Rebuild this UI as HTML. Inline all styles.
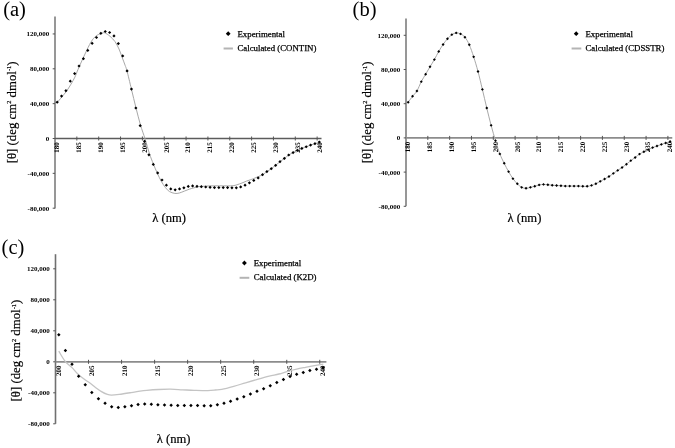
<!DOCTYPE html>
<html><head><meta charset="utf-8"><style>
html,body{margin:0;padding:0;background:#fff;}
body{width:675px;height:448px;overflow:hidden;}
svg{display:block;filter:grayscale(1);}
text{font-family:"Liberation Serif",serif;fill:#000;}
.yl{font-size:7px;font-weight:bold;}
.xl{font-size:7px;font-weight:bold;text-rendering:geometricPrecision;}
.lg{font-size:8.8px;stroke:#000;stroke-width:0.25px;}
.yt{font-size:12.8px;stroke:#000;stroke-width:0.2px;}
.sup{font-size:6.4px;}
.xt{font-size:12.6px;stroke:#000;stroke-width:0.2px;}
.pl{font-size:20.5px;}
</style></head><body>
<svg width="675" height="448" viewBox="0 0 675 448">
<rect width="675" height="448" fill="#fff"/>
<line x1="55" y1="16.4" x2="55" y2="208.4" stroke="#8c8c8c" stroke-width="1.8"/>
<line x1="52.7" y1="208.2" x2="55" y2="208.2" stroke="#555" stroke-width="1"/>
<text x="49.2" y="210.6" class="yl" text-anchor="end">-80,000</text>
<line x1="52.7" y1="173.35" x2="55" y2="173.35" stroke="#555" stroke-width="1"/>
<text x="49.2" y="175.75" class="yl" text-anchor="end">-40,000</text>
<line x1="52.7" y1="138.5" x2="55" y2="138.5" stroke="#555" stroke-width="1"/>
<text x="49.2" y="140.9" class="yl" text-anchor="end">0</text>
<line x1="52.7" y1="103.65" x2="55" y2="103.65" stroke="#555" stroke-width="1"/>
<text x="49.2" y="106.05" class="yl" text-anchor="end">40,000</text>
<line x1="52.7" y1="68.8" x2="55" y2="68.8" stroke="#555" stroke-width="1"/>
<text x="49.2" y="71.2" class="yl" text-anchor="end">80,000</text>
<line x1="52.7" y1="33.95" x2="55" y2="33.95" stroke="#555" stroke-width="1"/>
<text x="49.2" y="36.35" class="yl" text-anchor="end">120,000</text>
<line x1="55" y1="138.5" x2="321.51" y2="138.5" stroke="#5c5c5c" stroke-width="1.3"/>
<line x1="76.84" y1="136.5" x2="76.84" y2="140.5" stroke="#555" stroke-width="1"/>
<line x1="98.69" y1="136.5" x2="98.69" y2="140.5" stroke="#555" stroke-width="1"/>
<line x1="120.53" y1="136.5" x2="120.53" y2="140.5" stroke="#555" stroke-width="1"/>
<line x1="142.38" y1="136.5" x2="142.38" y2="140.5" stroke="#555" stroke-width="1"/>
<line x1="164.22" y1="136.5" x2="164.22" y2="140.5" stroke="#555" stroke-width="1"/>
<line x1="186.07" y1="136.5" x2="186.07" y2="140.5" stroke="#555" stroke-width="1"/>
<line x1="207.91" y1="136.5" x2="207.91" y2="140.5" stroke="#555" stroke-width="1"/>
<line x1="229.76" y1="136.5" x2="229.76" y2="140.5" stroke="#555" stroke-width="1"/>
<line x1="251.6" y1="136.5" x2="251.6" y2="140.5" stroke="#555" stroke-width="1"/>
<line x1="273.45" y1="136.5" x2="273.45" y2="140.5" stroke="#555" stroke-width="1"/>
<line x1="295.29" y1="136.5" x2="295.29" y2="140.5" stroke="#555" stroke-width="1"/>
<line x1="317.14" y1="136.5" x2="317.14" y2="140.5" stroke="#555" stroke-width="1"/>
<text class="xl" text-anchor="end" transform="translate(57.18,142.3) rotate(-90)" x="0" y="2.2">180</text>
<text class="xl" text-anchor="end" transform="translate(79.03,142.3) rotate(-90)" x="0" y="2.2">185</text>
<text class="xl" text-anchor="end" transform="translate(100.87,142.3) rotate(-90)" x="0" y="2.2">190</text>
<text class="xl" text-anchor="end" transform="translate(122.72,142.3) rotate(-90)" x="0" y="2.2">195</text>
<text class="xl" text-anchor="end" transform="translate(144.56,142.3) rotate(-90)" x="0" y="2.2">200</text>
<text class="xl" text-anchor="end" transform="translate(166.41,142.3) rotate(-90)" x="0" y="2.2">205</text>
<text class="xl" text-anchor="end" transform="translate(188.25,142.3) rotate(-90)" x="0" y="2.2">210</text>
<text class="xl" text-anchor="end" transform="translate(210.1,142.3) rotate(-90)" x="0" y="2.2">215</text>
<text class="xl" text-anchor="end" transform="translate(231.94,142.3) rotate(-90)" x="0" y="2.2">220</text>
<text class="xl" text-anchor="end" transform="translate(253.79,142.3) rotate(-90)" x="0" y="2.2">225</text>
<text class="xl" text-anchor="end" transform="translate(275.63,142.3) rotate(-90)" x="0" y="2.2">230</text>
<text class="xl" text-anchor="end" transform="translate(297.48,142.3) rotate(-90)" x="0" y="2.2">235</text>
<text class="xl" text-anchor="end" transform="translate(319.32,142.3) rotate(-90)" x="0" y="2.2">240</text>
<path d="M57.2,102.6 C57.98,101.63 60.37,98.67 61.9,96.8 C63.43,94.93 64.9,93.48 66.4,91.4 C67.9,89.32 69.48,86.68 70.9,84.3 C72.32,81.92 73.72,79.57 74.9,77.1 C76.08,74.63 76.32,73.35 78,69.5 C79.68,65.65 82.83,58.58 85,54 C87.17,49.42 89.17,45 91,42 C92.83,39 94.33,37.4 96,36 C97.67,34.6 99.57,34.13 101,33.6 C102.43,33.07 103.1,32.35 104.6,32.8 C106.1,33.25 108.27,34.83 110,36.3 C111.73,37.77 113.5,39.48 115,41.6 C116.5,43.72 117.83,46.43 119,49 C120.17,51.57 121,54.33 122,57 C123,59.67 124.17,62.67 125,65 C125.83,67.33 125.93,67 127,71 C128.07,75 129.9,82.83 131.4,89 C132.9,95.17 134.48,102 136,108 C137.52,114 138.98,119.83 140.5,125 C142.02,130.17 143.62,134.27 145.1,139 C146.58,143.73 148.02,149.22 149.4,153.4 C150.78,157.58 152.07,160.77 153.4,164.1 C154.73,167.43 156.07,170.5 157.4,173.4 C158.73,176.3 160.07,179.15 161.4,181.5 C162.73,183.85 164.07,185.83 165.4,187.5 C166.73,189.17 167.83,190.52 169.4,191.5 C170.97,192.48 173.15,193.15 174.8,193.4 C176.45,193.65 177.7,193.38 179.3,193 C180.9,192.62 182.68,191.75 184.4,191.1 C186.12,190.45 188,189.65 189.6,189.1 C191.2,188.55 192.52,188.2 194,187.8 C195.48,187.4 197,186.95 198.5,186.7 C200,186.45 201.08,186.43 203,186.3 C204.92,186.17 207.2,185.98 210,185.9 C212.8,185.82 216.93,185.8 219.8,185.8 C222.67,185.8 224.98,185.92 227.2,185.9 C229.42,185.88 231.48,185.88 233.1,185.7 C234.72,185.52 235.42,185.25 236.9,184.8 C238.38,184.35 240.4,183.62 242,183 C243.6,182.38 245.02,181.67 246.5,181.1 C247.98,180.53 249.48,180.12 250.9,179.6 C252.32,179.08 253.06,178.82 255,178 C256.94,177.18 260.54,175.77 262.53,174.7 C264.51,173.63 265.44,172.6 266.9,171.6 C268.35,170.6 269.81,169.75 271.27,168.7 C272.72,167.65 274.18,166.47 275.63,165.3 C277.09,164.13 278.55,162.85 280,161.7 C281.46,160.55 282.92,159.52 284.37,158.4 C285.83,157.28 287.29,155.97 288.74,155 C290.2,154.03 291.65,153.37 293.11,152.6 C294.57,151.83 296.02,151.1 297.48,150.4 C298.94,149.7 300.39,149.01 301.85,148.4 C303.3,147.79 304.76,147.3 306.22,146.75 C307.67,146.2 309.13,145.61 310.59,145.1 C312.04,144.59 313.5,144.2 314.96,143.7 C316.41,143.2 318.6,142.37 319.32,142.1" fill="none" stroke="#a8a8a8" stroke-width="1"/>
<path d="M57.18,100.6 L58.78,102.2 L57.18,103.8 L55.58,102.2 Z" fill="#000"/>
<path d="M61.55,94.5 L63.15,96.1 L61.55,97.7 L59.95,96.1 Z" fill="#000"/>
<path d="M65.92,89.1 L67.52,90.7 L65.92,92.3 L64.32,90.7 Z" fill="#000"/>
<path d="M70.29,79.6 L71.89,81.2 L70.29,82.8 L68.69,81.2 Z" fill="#000"/>
<path d="M74.66,72 L76.26,73.6 L74.66,75.2 L73.06,73.6 Z" fill="#000"/>
<path d="M79.03,64.4 L80.63,66 L79.03,67.6 L77.43,66 Z" fill="#000"/>
<path d="M83.4,57.1 L85,58.7 L83.4,60.3 L81.8,58.7 Z" fill="#000"/>
<path d="M87.77,48.8 L89.37,50.4 L87.77,52 L86.17,50.4 Z" fill="#000"/>
<path d="M92.14,41.7 L93.74,43.3 L92.14,44.9 L90.54,43.3 Z" fill="#000"/>
<path d="M96.51,35.9 L98.11,37.5 L96.51,39.1 L94.91,37.5 Z" fill="#000"/>
<path d="M100.87,31.7 L102.47,33.3 L100.87,34.9 L99.27,33.3 Z" fill="#000"/>
<path d="M105.24,29.9 L106.84,31.5 L105.24,33.1 L103.64,31.5 Z" fill="#000"/>
<path d="M109.61,30.9 L111.21,32.5 L109.61,34.1 L108.01,32.5 Z" fill="#000"/>
<path d="M113.98,34.3 L115.58,35.9 L113.98,37.5 L112.38,35.9 Z" fill="#000"/>
<path d="M118.35,42 L119.95,43.6 L118.35,45.2 L116.75,43.6 Z" fill="#000"/>
<path d="M122.72,54.3 L124.32,55.9 L122.72,57.5 L121.12,55.9 Z" fill="#000"/>
<path d="M127.09,69.3 L128.69,70.9 L127.09,72.5 L125.49,70.9 Z" fill="#000"/>
<path d="M131.46,87.5 L133.06,89.1 L131.46,90.7 L129.86,89.1 Z" fill="#000"/>
<path d="M135.83,106.4 L137.43,108 L135.83,109.6 L134.23,108 Z" fill="#000"/>
<path d="M140.2,124.1 L141.8,125.7 L140.2,127.3 L138.6,125.7 Z" fill="#000"/>
<path d="M144.56,139.7 L146.16,141.3 L144.56,142.9 L142.96,141.3 Z" fill="#000"/>
<path d="M148.93,153.2 L150.53,154.8 L148.93,156.4 L147.33,154.8 Z" fill="#000"/>
<path d="M153.3,162.8 L154.9,164.4 L153.3,166 L151.7,164.4 Z" fill="#000"/>
<path d="M157.67,171.3 L159.27,172.9 L157.67,174.5 L156.07,172.9 Z" fill="#000"/>
<path d="M162.04,178.4 L163.64,180 L162.04,181.6 L160.44,180 Z" fill="#000"/>
<path d="M166.41,183.6 L168.01,185.2 L166.41,186.8 L164.81,185.2 Z" fill="#000"/>
<path d="M170.78,187.3 L172.38,188.9 L170.78,190.5 L169.18,188.9 Z" fill="#000"/>
<path d="M175.15,188.2 L176.75,189.8 L175.15,191.4 L173.55,189.8 Z" fill="#000"/>
<path d="M179.52,187.3 L181.12,188.9 L179.52,190.5 L177.92,188.9 Z" fill="#000"/>
<path d="M183.89,186.2 L185.49,187.8 L183.89,189.4 L182.29,187.8 Z" fill="#000"/>
<path d="M188.25,184.8 L189.85,186.4 L188.25,188 L186.65,186.4 Z" fill="#000"/>
<path d="M192.62,184.3 L194.22,185.9 L192.62,187.5 L191.02,185.9 Z" fill="#000"/>
<path d="M196.99,184.7 L198.59,186.3 L196.99,187.9 L195.39,186.3 Z" fill="#000"/>
<path d="M201.36,185.1 L202.96,186.7 L201.36,188.3 L199.76,186.7 Z" fill="#000"/>
<path d="M205.73,185.4 L207.33,187 L205.73,188.6 L204.13,187 Z" fill="#000"/>
<path d="M210.1,185.7 L211.7,187.3 L210.1,188.9 L208.5,187.3 Z" fill="#000"/>
<path d="M214.47,186 L216.07,187.6 L214.47,189.2 L212.87,187.6 Z" fill="#000"/>
<path d="M218.84,186 L220.44,187.6 L218.84,189.2 L217.24,187.6 Z" fill="#000"/>
<path d="M223.21,186 L224.81,187.6 L223.21,189.2 L221.61,187.6 Z" fill="#000"/>
<path d="M227.58,186 L229.18,187.6 L227.58,189.2 L225.98,187.6 Z" fill="#000"/>
<path d="M231.94,186.2 L233.54,187.8 L231.94,189.4 L230.34,187.8 Z" fill="#000"/>
<path d="M236.31,186.2 L237.91,187.8 L236.31,189.4 L234.71,187.8 Z" fill="#000"/>
<path d="M240.68,185.3 L242.28,186.9 L240.68,188.5 L239.08,186.9 Z" fill="#000"/>
<path d="M245.05,183.6 L246.65,185.2 L245.05,186.8 L243.45,185.2 Z" fill="#000"/>
<path d="M249.42,181.2 L251.02,182.8 L249.42,184.4 L247.82,182.8 Z" fill="#000"/>
<path d="M253.79,178.8 L255.39,180.4 L253.79,182 L252.19,180.4 Z" fill="#000"/>
<path d="M258.16,176.3 L259.76,177.9 L258.16,179.5 L256.56,177.9 Z" fill="#000"/>
<path d="M262.53,173.1 L264.13,174.7 L262.53,176.3 L260.93,174.7 Z" fill="#000"/>
<path d="M266.9,170 L268.5,171.6 L266.9,173.2 L265.3,171.6 Z" fill="#000"/>
<path d="M271.27,167.1 L272.87,168.7 L271.27,170.3 L269.67,168.7 Z" fill="#000"/>
<path d="M275.63,163.7 L277.23,165.3 L275.63,166.9 L274.03,165.3 Z" fill="#000"/>
<path d="M280,160.1 L281.6,161.7 L280,163.3 L278.4,161.7 Z" fill="#000"/>
<path d="M284.37,156.8 L285.97,158.4 L284.37,160 L282.77,158.4 Z" fill="#000"/>
<path d="M288.74,153.4 L290.34,155 L288.74,156.6 L287.14,155 Z" fill="#000"/>
<path d="M293.11,151 L294.71,152.6 L293.11,154.2 L291.51,152.6 Z" fill="#000"/>
<path d="M297.48,148.8 L299.08,150.4 L297.48,152 L295.88,150.4 Z" fill="#000"/>
<path d="M301.85,146.8 L303.45,148.4 L301.85,150 L300.25,148.4 Z" fill="#000"/>
<path d="M306.22,145.15 L307.82,146.75 L306.22,148.35 L304.62,146.75 Z" fill="#000"/>
<path d="M310.59,143.5 L312.19,145.1 L310.59,146.7 L308.99,145.1 Z" fill="#000"/>
<path d="M314.96,142.1 L316.56,143.7 L314.96,145.3 L313.36,143.7 Z" fill="#000"/>
<path d="M319.32,140.5 L320.92,142.1 L319.32,143.7 L317.72,142.1 Z" fill="#000"/>
<line x1="406" y1="18.4" x2="406" y2="206.3" stroke="#8c8c8c" stroke-width="1.8"/>
<line x1="403.7" y1="206.3" x2="406" y2="206.3" stroke="#555" stroke-width="1"/>
<text x="400.2" y="208.7" class="yl" text-anchor="end">-80,000</text>
<line x1="403.7" y1="172.1" x2="406" y2="172.1" stroke="#555" stroke-width="1"/>
<text x="400.2" y="174.5" class="yl" text-anchor="end">-40,000</text>
<line x1="403.7" y1="137.9" x2="406" y2="137.9" stroke="#555" stroke-width="1"/>
<text x="400.2" y="140.3" class="yl" text-anchor="end">0</text>
<line x1="403.7" y1="103.7" x2="406" y2="103.7" stroke="#555" stroke-width="1"/>
<text x="400.2" y="106.1" class="yl" text-anchor="end">40,000</text>
<line x1="403.7" y1="69.5" x2="406" y2="69.5" stroke="#555" stroke-width="1"/>
<text x="400.2" y="71.9" class="yl" text-anchor="end">80,000</text>
<line x1="403.7" y1="35.3" x2="406" y2="35.3" stroke="#555" stroke-width="1"/>
<text x="400.2" y="37.7" class="yl" text-anchor="end">120,000</text>
<line x1="406" y1="137.9" x2="672.26" y2="137.9" stroke="#8c8c8c" stroke-width="1.8"/>
<line x1="427.82" y1="135.9" x2="427.82" y2="139.9" stroke="#555" stroke-width="1"/>
<line x1="449.65" y1="135.9" x2="449.65" y2="139.9" stroke="#555" stroke-width="1"/>
<line x1="471.48" y1="135.9" x2="471.48" y2="139.9" stroke="#555" stroke-width="1"/>
<line x1="493.3" y1="135.9" x2="493.3" y2="139.9" stroke="#555" stroke-width="1"/>
<line x1="515.12" y1="135.9" x2="515.12" y2="139.9" stroke="#555" stroke-width="1"/>
<line x1="536.95" y1="135.9" x2="536.95" y2="139.9" stroke="#555" stroke-width="1"/>
<line x1="558.77" y1="135.9" x2="558.77" y2="139.9" stroke="#555" stroke-width="1"/>
<line x1="580.6" y1="135.9" x2="580.6" y2="139.9" stroke="#555" stroke-width="1"/>
<line x1="602.42" y1="135.9" x2="602.42" y2="139.9" stroke="#555" stroke-width="1"/>
<line x1="624.25" y1="135.9" x2="624.25" y2="139.9" stroke="#555" stroke-width="1"/>
<line x1="646.08" y1="135.9" x2="646.08" y2="139.9" stroke="#555" stroke-width="1"/>
<line x1="667.9" y1="135.9" x2="667.9" y2="139.9" stroke="#555" stroke-width="1"/>
<text class="xl" text-anchor="end" transform="translate(408.18,141.7) rotate(-90)" x="0" y="2.2">180</text>
<text class="xl" text-anchor="end" transform="translate(430.01,141.7) rotate(-90)" x="0" y="2.2">185</text>
<text class="xl" text-anchor="end" transform="translate(451.83,141.7) rotate(-90)" x="0" y="2.2">190</text>
<text class="xl" text-anchor="end" transform="translate(473.66,141.7) rotate(-90)" x="0" y="2.2">195</text>
<text class="xl" text-anchor="end" transform="translate(495.48,141.7) rotate(-90)" x="0" y="2.2">200</text>
<text class="xl" text-anchor="end" transform="translate(517.31,141.7) rotate(-90)" x="0" y="2.2">205</text>
<text class="xl" text-anchor="end" transform="translate(539.13,141.7) rotate(-90)" x="0" y="2.2">210</text>
<text class="xl" text-anchor="end" transform="translate(560.96,141.7) rotate(-90)" x="0" y="2.2">215</text>
<text class="xl" text-anchor="end" transform="translate(582.78,141.7) rotate(-90)" x="0" y="2.2">220</text>
<text class="xl" text-anchor="end" transform="translate(604.61,141.7) rotate(-90)" x="0" y="2.2">225</text>
<text class="xl" text-anchor="end" transform="translate(626.43,141.7) rotate(-90)" x="0" y="2.2">230</text>
<text class="xl" text-anchor="end" transform="translate(648.26,141.7) rotate(-90)" x="0" y="2.2">235</text>
<text class="xl" text-anchor="end" transform="translate(670.08,141.7) rotate(-90)" x="0" y="2.2">240</text>
<path d="M408.18,102.28 C408.91,101.28 411.09,98.17 412.55,96.29 C414,94.41 415.46,93.43 416.91,90.99 C418.37,88.55 419.82,84.47 421.28,81.67 C422.73,78.87 424.19,76.7 425.64,74.21 C427.1,71.72 428.55,69.19 430.01,66.75 C431.46,64.32 432.92,62.14 434.37,59.59 C435.83,57.04 437.28,53.96 438.74,51.44 C440.19,48.92 441.65,46.59 443.1,44.48 C444.56,42.37 446.01,40.42 447.47,38.78 C448.92,37.15 450.38,35.64 451.83,34.66 C453.29,33.68 454.74,33.03 456.2,32.9 C457.65,32.76 459.11,33.16 460.56,33.88 C462.02,34.6 463.47,35.4 464.93,37.21 C466.38,39.03 467.84,41.5 469.29,44.77 C470.75,48.04 472.2,52.38 473.66,56.84 C475.11,61.31 476.57,66.13 478.02,71.56 C479.48,76.99 480.93,83.35 482.39,89.42 C483.84,95.49 485.3,101.98 486.75,107.97 C488.21,113.96 489.66,119.89 491.12,125.34 C492.57,130.79 494.03,135.89 495.48,140.65 C496.94,145.41 498.39,150.12 499.85,153.9 C501.3,157.67 502.76,160.36 504.21,163.32 C505.67,166.28 507.12,169.11 508.58,171.66 C510.03,174.21 511.49,176.61 512.94,178.63 C514.4,180.64 515.85,182.27 517.31,183.73 C518.76,185.18 520.22,186.61 521.67,187.36 C523.13,188.11 524.58,188.24 526.04,188.24 C527.49,188.24 528.95,187.69 530.4,187.36 C531.86,187.03 533.31,186.69 534.77,186.28 C536.22,185.87 537.68,185.22 539.13,184.91 C540.59,184.6 542.04,184.43 543.5,184.42 C544.95,184.4 546.41,184.68 547.86,184.81 C549.32,184.94 550.77,185.09 552.23,185.2 C553.68,185.32 555.14,185.4 556.59,185.5 C558.05,185.59 559.5,185.69 560.96,185.79 C562.41,185.89 563.87,186.04 565.32,186.08 C566.78,186.13 568.23,186.08 569.69,186.08 C571.14,186.08 572.6,186.08 574.05,186.08 C575.51,186.08 576.96,186.05 578.42,186.08 C579.87,186.12 581.33,186.25 582.78,186.28 C584.24,186.31 585.69,186.43 587.15,186.28 C588.6,186.13 590.06,185.82 591.51,185.4 C592.97,184.97 594.42,184.4 595.88,183.73 C597.33,183.06 598.79,182.16 600.24,181.37 C601.7,180.59 603.15,179.82 604.61,179.02 C606.06,178.22 607.52,177.5 608.97,176.57 C610.43,175.63 611.88,174.46 613.34,173.42 C614.79,172.39 616.25,171.36 617.7,170.38 C619.16,169.4 620.61,168.57 622.07,167.54 C623.52,166.51 624.98,165.35 626.43,164.2 C627.89,163.06 629.34,161.8 630.8,160.67 C632.25,159.54 633.71,158.52 635.16,157.43 C636.62,156.33 638.07,155.04 639.53,154.09 C640.98,153.14 642.44,152.49 643.89,151.74 C645.35,150.98 646.8,150.26 648.26,149.58 C649.71,148.89 651.17,148.21 652.62,147.62 C654.08,147.02 655.53,146.54 656.99,146 C658.44,145.46 659.9,144.88 661.35,144.38 C662.81,143.88 664.26,143.49 665.72,143 C667.17,142.51 669.36,141.69 670.08,141.43" fill="none" stroke="#a8a8a8" stroke-width="1"/>
<path d="M408.18,100.83 L409.63,102.28 L408.18,103.73 L406.73,102.28 Z" fill="#000"/>
<path d="M412.55,94.84 L414,96.29 L412.55,97.74 L411.1,96.29 Z" fill="#000"/>
<path d="M416.91,89.54 L418.36,90.99 L416.91,92.44 L415.46,90.99 Z" fill="#000"/>
<path d="M421.28,80.22 L422.73,81.67 L421.28,83.12 L419.83,81.67 Z" fill="#000"/>
<path d="M425.64,72.76 L427.09,74.21 L425.64,75.66 L424.19,74.21 Z" fill="#000"/>
<path d="M430.01,65.3 L431.46,66.75 L430.01,68.2 L428.56,66.75 Z" fill="#000"/>
<path d="M434.37,58.14 L435.82,59.59 L434.37,61.04 L432.92,59.59 Z" fill="#000"/>
<path d="M438.74,49.99 L440.19,51.44 L438.74,52.89 L437.29,51.44 Z" fill="#000"/>
<path d="M443.1,43.03 L444.55,44.48 L443.1,45.93 L441.65,44.48 Z" fill="#000"/>
<path d="M447.47,37.33 L448.92,38.78 L447.47,40.23 L446.02,38.78 Z" fill="#000"/>
<path d="M451.83,33.21 L453.28,34.66 L451.83,36.11 L450.38,34.66 Z" fill="#000"/>
<path d="M456.2,31.45 L457.65,32.9 L456.2,34.35 L454.75,32.9 Z" fill="#000"/>
<path d="M460.56,32.43 L462.01,33.88 L460.56,35.33 L459.11,33.88 Z" fill="#000"/>
<path d="M464.93,35.76 L466.38,37.21 L464.93,38.66 L463.48,37.21 Z" fill="#000"/>
<path d="M469.29,43.32 L470.74,44.77 L469.29,46.22 L467.84,44.77 Z" fill="#000"/>
<path d="M473.66,55.39 L475.11,56.84 L473.66,58.29 L472.21,56.84 Z" fill="#000"/>
<path d="M478.02,70.11 L479.47,71.56 L478.02,73.01 L476.57,71.56 Z" fill="#000"/>
<path d="M482.39,87.97 L483.84,89.42 L482.39,90.87 L480.94,89.42 Z" fill="#000"/>
<path d="M486.75,106.52 L488.2,107.97 L486.75,109.42 L485.3,107.97 Z" fill="#000"/>
<path d="M491.12,123.89 L492.57,125.34 L491.12,126.79 L489.67,125.34 Z" fill="#000"/>
<path d="M495.48,139.2 L496.93,140.65 L495.48,142.1 L494.03,140.65 Z" fill="#000"/>
<path d="M499.85,152.45 L501.3,153.9 L499.85,155.35 L498.4,153.9 Z" fill="#000"/>
<path d="M504.21,161.87 L505.66,163.32 L504.21,164.77 L502.76,163.32 Z" fill="#000"/>
<path d="M508.58,170.21 L510.03,171.66 L508.58,173.11 L507.13,171.66 Z" fill="#000"/>
<path d="M512.94,177.18 L514.39,178.63 L512.94,180.08 L511.49,178.63 Z" fill="#000"/>
<path d="M517.31,182.28 L518.76,183.73 L517.31,185.18 L515.86,183.73 Z" fill="#000"/>
<path d="M521.67,185.91 L523.12,187.36 L521.67,188.81 L520.22,187.36 Z" fill="#000"/>
<path d="M526.04,186.79 L527.49,188.24 L526.04,189.69 L524.59,188.24 Z" fill="#000"/>
<path d="M530.4,185.91 L531.85,187.36 L530.4,188.81 L528.95,187.36 Z" fill="#000"/>
<path d="M534.77,184.83 L536.22,186.28 L534.77,187.73 L533.32,186.28 Z" fill="#000"/>
<path d="M539.13,183.46 L540.58,184.91 L539.13,186.36 L537.68,184.91 Z" fill="#000"/>
<path d="M543.5,182.97 L544.95,184.42 L543.5,185.87 L542.05,184.42 Z" fill="#000"/>
<path d="M547.86,183.36 L549.31,184.81 L547.86,186.26 L546.41,184.81 Z" fill="#000"/>
<path d="M552.23,183.75 L553.68,185.2 L552.23,186.65 L550.78,185.2 Z" fill="#000"/>
<path d="M556.59,184.05 L558.04,185.5 L556.59,186.95 L555.14,185.5 Z" fill="#000"/>
<path d="M560.96,184.34 L562.41,185.79 L560.96,187.24 L559.51,185.79 Z" fill="#000"/>
<path d="M565.32,184.63 L566.77,186.08 L565.32,187.53 L563.87,186.08 Z" fill="#000"/>
<path d="M569.69,184.63 L571.14,186.08 L569.69,187.53 L568.24,186.08 Z" fill="#000"/>
<path d="M574.05,184.63 L575.5,186.08 L574.05,187.53 L572.6,186.08 Z" fill="#000"/>
<path d="M578.42,184.63 L579.87,186.08 L578.42,187.53 L576.97,186.08 Z" fill="#000"/>
<path d="M582.78,184.83 L584.23,186.28 L582.78,187.73 L581.33,186.28 Z" fill="#000"/>
<path d="M587.15,184.83 L588.6,186.28 L587.15,187.73 L585.7,186.28 Z" fill="#000"/>
<path d="M591.51,183.95 L592.96,185.4 L591.51,186.85 L590.06,185.4 Z" fill="#000"/>
<path d="M595.88,182.28 L597.33,183.73 L595.88,185.18 L594.43,183.73 Z" fill="#000"/>
<path d="M600.24,179.92 L601.69,181.37 L600.24,182.82 L598.79,181.37 Z" fill="#000"/>
<path d="M604.61,177.57 L606.06,179.02 L604.61,180.47 L603.16,179.02 Z" fill="#000"/>
<path d="M608.97,175.12 L610.42,176.57 L608.97,178.02 L607.52,176.57 Z" fill="#000"/>
<path d="M613.34,171.97 L614.79,173.42 L613.34,174.87 L611.89,173.42 Z" fill="#000"/>
<path d="M617.7,168.93 L619.15,170.38 L617.7,171.83 L616.25,170.38 Z" fill="#000"/>
<path d="M622.07,166.09 L623.52,167.54 L622.07,168.99 L620.62,167.54 Z" fill="#000"/>
<path d="M626.43,162.75 L627.88,164.2 L626.43,165.65 L624.98,164.2 Z" fill="#000"/>
<path d="M630.8,159.22 L632.25,160.67 L630.8,162.12 L629.35,160.67 Z" fill="#000"/>
<path d="M635.16,155.98 L636.61,157.43 L635.16,158.88 L633.71,157.43 Z" fill="#000"/>
<path d="M639.53,152.64 L640.98,154.09 L639.53,155.54 L638.08,154.09 Z" fill="#000"/>
<path d="M643.89,150.29 L645.34,151.74 L643.89,153.19 L642.44,151.74 Z" fill="#000"/>
<path d="M648.26,148.13 L649.71,149.58 L648.26,151.03 L646.81,149.58 Z" fill="#000"/>
<path d="M652.62,146.17 L654.07,147.62 L652.62,149.07 L651.17,147.62 Z" fill="#000"/>
<path d="M656.99,144.55 L658.44,146 L656.99,147.45 L655.54,146 Z" fill="#000"/>
<path d="M661.35,142.93 L662.8,144.38 L661.35,145.83 L659.9,144.38 Z" fill="#000"/>
<path d="M665.72,141.55 L667.17,143 L665.72,144.45 L664.27,143 Z" fill="#000"/>
<path d="M670.08,139.98 L671.53,141.43 L670.08,142.88 L668.63,141.43 Z" fill="#000"/>
<line x1="55.5" y1="254.2" x2="55.5" y2="423.8" stroke="#707070" stroke-width="1.6"/>
<line x1="53.2" y1="423.8" x2="55.5" y2="423.8" stroke="#555" stroke-width="1"/>
<text x="49.7" y="426.2" class="yl" text-anchor="end">-80,000</text>
<line x1="53.2" y1="392.8" x2="55.5" y2="392.8" stroke="#555" stroke-width="1"/>
<text x="49.7" y="395.2" class="yl" text-anchor="end">-40,000</text>
<line x1="53.2" y1="361.8" x2="55.5" y2="361.8" stroke="#555" stroke-width="1"/>
<text x="49.7" y="364.2" class="yl" text-anchor="end">0</text>
<line x1="53.2" y1="330.8" x2="55.5" y2="330.8" stroke="#555" stroke-width="1"/>
<text x="49.7" y="333.2" class="yl" text-anchor="end">40,000</text>
<line x1="53.2" y1="299.8" x2="55.5" y2="299.8" stroke="#555" stroke-width="1"/>
<text x="49.7" y="302.2" class="yl" text-anchor="end">80,000</text>
<line x1="53.2" y1="268.8" x2="55.5" y2="268.8" stroke="#555" stroke-width="1"/>
<text x="49.7" y="271.2" class="yl" text-anchor="end">120,000</text>
<line x1="55.5" y1="361.8" x2="326.39" y2="361.8" stroke="#8c8c8c" stroke-width="1.8"/>
<line x1="88.53" y1="359.8" x2="88.53" y2="363.8" stroke="#555" stroke-width="1"/>
<line x1="121.57" y1="359.8" x2="121.57" y2="363.8" stroke="#555" stroke-width="1"/>
<line x1="154.61" y1="359.8" x2="154.61" y2="363.8" stroke="#555" stroke-width="1"/>
<line x1="187.64" y1="359.8" x2="187.64" y2="363.8" stroke="#555" stroke-width="1"/>
<line x1="220.68" y1="359.8" x2="220.68" y2="363.8" stroke="#555" stroke-width="1"/>
<line x1="253.71" y1="359.8" x2="253.71" y2="363.8" stroke="#555" stroke-width="1"/>
<line x1="286.75" y1="359.8" x2="286.75" y2="363.8" stroke="#555" stroke-width="1"/>
<line x1="319.78" y1="359.8" x2="319.78" y2="363.8" stroke="#555" stroke-width="1"/>
<text class="xl" text-anchor="end" transform="translate(58.8,365.6) rotate(-90)" x="0" y="2.2">200</text>
<text class="xl" text-anchor="end" transform="translate(91.84,365.6) rotate(-90)" x="0" y="2.2">205</text>
<text class="xl" text-anchor="end" transform="translate(124.87,365.6) rotate(-90)" x="0" y="2.2">210</text>
<text class="xl" text-anchor="end" transform="translate(157.91,365.6) rotate(-90)" x="0" y="2.2">215</text>
<text class="xl" text-anchor="end" transform="translate(190.94,365.6) rotate(-90)" x="0" y="2.2">220</text>
<text class="xl" text-anchor="end" transform="translate(223.98,365.6) rotate(-90)" x="0" y="2.2">225</text>
<text class="xl" text-anchor="end" transform="translate(257.01,365.6) rotate(-90)" x="0" y="2.2">230</text>
<text class="xl" text-anchor="end" transform="translate(290.05,365.6) rotate(-90)" x="0" y="2.2">235</text>
<text class="xl" text-anchor="end" transform="translate(323.08,365.6) rotate(-90)" x="0" y="2.2">240</text>
<path d="M58.8,351.2 C59.88,352.92 63.13,358.8 65.3,361.5 C67.47,364.2 69.72,365.32 71.8,367.4 C73.88,369.48 75.82,372.1 77.8,374 C79.78,375.9 81.73,377.33 83.7,378.8 C85.67,380.27 87.63,381.37 89.6,382.8 C91.57,384.23 93.52,385.93 95.5,387.4 C97.48,388.87 99.52,390.43 101.5,391.6 C103.48,392.77 105.73,393.82 107.4,394.4 C109.07,394.98 109.53,395.1 111.5,395.1 C113.47,395.1 115.93,394.82 119.2,394.4 C122.47,393.98 127.63,393.15 131.1,392.6 C134.57,392.05 137.38,391.48 140,391.1 C142.62,390.72 143.68,390.57 146.8,390.3 C149.92,390.03 154.75,389.68 158.7,389.5 C162.65,389.32 166.55,389.15 170.5,389.2 C174.45,389.25 178.45,389.6 182.4,389.8 C186.35,390 190.65,390.27 194.2,390.4 C197.75,390.53 200.23,390.67 203.7,390.6 C207.17,390.53 211.98,390.2 215,390 C218.02,389.8 218.68,390 221.8,389.4 C224.92,388.8 229.75,387.5 233.7,386.4 C237.65,385.3 241.55,383.98 245.5,382.8 C249.45,381.62 253.45,380.42 257.4,379.3 C261.35,378.18 265.62,376.98 269.2,376.1 C272.78,375.22 275.8,374.8 278.9,374 C282,373.2 284.83,372.12 287.8,371.3 C290.77,370.48 293.73,369.77 296.7,369.1 C299.67,368.43 302.65,367.88 305.6,367.3 C308.55,366.72 311.45,366.12 314.4,365.6 C317.35,365.08 321.82,364.43 323.3,364.2" fill="none" stroke="#c4c4c4" stroke-width="1.3"/>
<path d="M58.8,332.92 L60.55,334.67 L58.8,336.42 L57.05,334.67 Z" fill="#000"/>
<path d="M65.41,348.66 L67.16,350.41 L65.41,352.16 L63.66,350.41 Z" fill="#000"/>
<path d="M72.02,362.54 L73.77,364.29 L72.02,366.04 L70.27,364.29 Z" fill="#000"/>
<path d="M78.62,374.55 L80.37,376.3 L78.62,378.05 L76.87,376.3 Z" fill="#000"/>
<path d="M85.23,383.09 L86.98,384.84 L85.23,386.59 L83.48,384.84 Z" fill="#000"/>
<path d="M91.84,390.65 L93.59,392.4 L91.84,394.15 L90.09,392.4 Z" fill="#000"/>
<path d="M98.45,396.97 L100.2,398.72 L98.45,400.47 L96.7,398.72 Z" fill="#000"/>
<path d="M105.05,401.59 L106.8,403.34 L105.05,405.09 L103.3,403.34 Z" fill="#000"/>
<path d="M111.66,404.88 L113.41,406.63 L111.66,408.38 L109.91,406.63 Z" fill="#000"/>
<path d="M118.27,405.68 L120.02,407.43 L118.27,409.18 L116.52,407.43 Z" fill="#000"/>
<path d="M124.87,404.88 L126.62,406.63 L124.87,408.38 L123.12,406.63 Z" fill="#000"/>
<path d="M131.48,403.9 L133.23,405.65 L131.48,407.4 L129.73,405.65 Z" fill="#000"/>
<path d="M138.09,402.66 L139.84,404.41 L138.09,406.16 L136.34,404.41 Z" fill="#000"/>
<path d="M144.69,402.21 L146.44,403.96 L144.69,405.71 L142.94,403.96 Z" fill="#000"/>
<path d="M151.3,402.57 L153.05,404.32 L151.3,406.07 L149.55,404.32 Z" fill="#000"/>
<path d="M157.91,402.93 L159.66,404.68 L157.91,406.43 L156.16,404.68 Z" fill="#000"/>
<path d="M164.52,403.19 L166.27,404.94 L164.52,406.69 L162.77,404.94 Z" fill="#000"/>
<path d="M171.12,403.46 L172.87,405.21 L171.12,406.96 L169.37,405.21 Z" fill="#000"/>
<path d="M177.73,403.73 L179.48,405.48 L177.73,407.23 L175.98,405.48 Z" fill="#000"/>
<path d="M184.34,403.73 L186.09,405.48 L184.34,407.23 L182.59,405.48 Z" fill="#000"/>
<path d="M190.94,403.73 L192.69,405.48 L190.94,407.23 L189.19,405.48 Z" fill="#000"/>
<path d="M197.55,403.73 L199.3,405.48 L197.55,407.23 L195.8,405.48 Z" fill="#000"/>
<path d="M204.16,403.9 L205.91,405.65 L204.16,407.4 L202.41,405.65 Z" fill="#000"/>
<path d="M210.76,403.9 L212.51,405.65 L210.76,407.4 L209.01,405.65 Z" fill="#000"/>
<path d="M217.37,403.1 L219.12,404.85 L217.37,406.6 L215.62,404.85 Z" fill="#000"/>
<path d="M223.98,401.59 L225.73,403.34 L223.98,405.09 L222.23,403.34 Z" fill="#000"/>
<path d="M230.59,399.46 L232.34,401.21 L230.59,402.96 L228.84,401.21 Z" fill="#000"/>
<path d="M237.19,397.32 L238.94,399.07 L237.19,400.82 L235.44,399.07 Z" fill="#000"/>
<path d="M243.8,395.1 L245.55,396.85 L243.8,398.6 L242.05,396.85 Z" fill="#000"/>
<path d="M250.41,392.25 L252.16,394 L250.41,395.75 L248.66,394 Z" fill="#000"/>
<path d="M257.01,389.49 L258.76,391.24 L257.01,392.99 L255.26,391.24 Z" fill="#000"/>
<path d="M263.62,386.91 L265.37,388.66 L263.62,390.41 L261.87,388.66 Z" fill="#000"/>
<path d="M270.23,383.89 L271.98,385.64 L270.23,387.39 L268.48,385.64 Z" fill="#000"/>
<path d="M276.83,380.69 L278.58,382.44 L276.83,384.19 L275.08,382.44 Z" fill="#000"/>
<path d="M283.44,377.75 L285.19,379.5 L283.44,381.25 L281.69,379.5 Z" fill="#000"/>
<path d="M290.05,374.73 L291.8,376.48 L290.05,378.23 L288.3,376.48 Z" fill="#000"/>
<path d="M296.66,372.59 L298.41,374.34 L296.66,376.09 L294.91,374.34 Z" fill="#000"/>
<path d="M303.26,370.64 L305.01,372.39 L303.26,374.14 L301.51,372.39 Z" fill="#000"/>
<path d="M309.87,368.86 L311.62,370.61 L309.87,372.36 L308.12,370.61 Z" fill="#000"/>
<path d="M316.48,367.39 L318.23,369.14 L316.48,370.89 L314.73,369.14 Z" fill="#000"/>
<path d="M323.08,365.92 L324.83,367.67 L323.08,369.42 L321.33,367.67 Z" fill="#000"/>
<path d="M228.2,31.3 L230.6,33.7 L228.2,36.1 L225.8,33.7 Z" fill="#000"/>
<text class="lg" x="237.5" y="36.8">Experimental</text>
<line x1="223.6" y1="48.5" x2="232.9" y2="48.5" stroke="#b4b4b4" stroke-width="2"/>
<text class="lg" x="237.5" y="50.8">Calculated (CONTIN)</text>
<path d="M576.2,31.3 L578.6,33.7 L576.2,36.1 L573.8,33.7 Z" fill="#000"/>
<text class="lg" x="585.5" y="36.8">Experimental</text>
<line x1="571.6" y1="48.5" x2="581.3" y2="48.5" stroke="#b4b4b4" stroke-width="2"/>
<text class="lg" x="585.5" y="50.8">Calculated (CDSSTR)</text>
<path d="M244.4,260.6 L246.8,263 L244.4,265.4 L242,263 Z" fill="#000"/>
<text class="lg" x="253.7" y="266.1">Experimental</text>
<line x1="239.6" y1="277.8" x2="249.3" y2="277.8" stroke="#b4b4b4" stroke-width="2"/>
<text class="lg" x="253.7" y="280.1">Calculated (K2D)</text>
<text class="yt" text-anchor="middle" transform="translate(15.9,112.4) rotate(-90)" x="0" y="0">[&#952;] (deg cm<tspan class="sup" dy="-4.6">2</tspan><tspan dy="4.6"> dmol</tspan><tspan class="sup" dy="-4.6">-1</tspan><tspan dy="4.6">)</tspan></text>
<text class="yt" text-anchor="middle" transform="translate(371.1,112.4) rotate(-90)" x="0" y="0">[&#952;] (deg cm<tspan class="sup" dy="-4.6">2</tspan><tspan dy="4.6"> dmol</tspan><tspan class="sup" dy="-4.6">-1</tspan><tspan dy="4.6">)</tspan></text>
<text class="yt" text-anchor="middle" transform="translate(20.1,350.6) rotate(-90)" x="0" y="0">[&#952;] (deg cm<tspan class="sup" dy="-4.6">2</tspan><tspan dy="4.6"> dmol</tspan><tspan class="sup" dy="-4.6">-1</tspan><tspan dy="4.6">)</tspan></text>
<text class="xt" x="152.3" y="221.8">&#955; (nm)</text>
<text class="xt" x="507.6" y="221.8">&#955; (nm)</text>
<text class="xt" x="156.7" y="442.9">&#955; (nm)</text>
<text class="pl" x="3.2" y="16.2">(a)</text>
<text class="pl" x="352.6" y="16.4">(b)</text>
<text class="pl" x="1.6" y="254.2">(c)</text>
</svg>
</body></html>
